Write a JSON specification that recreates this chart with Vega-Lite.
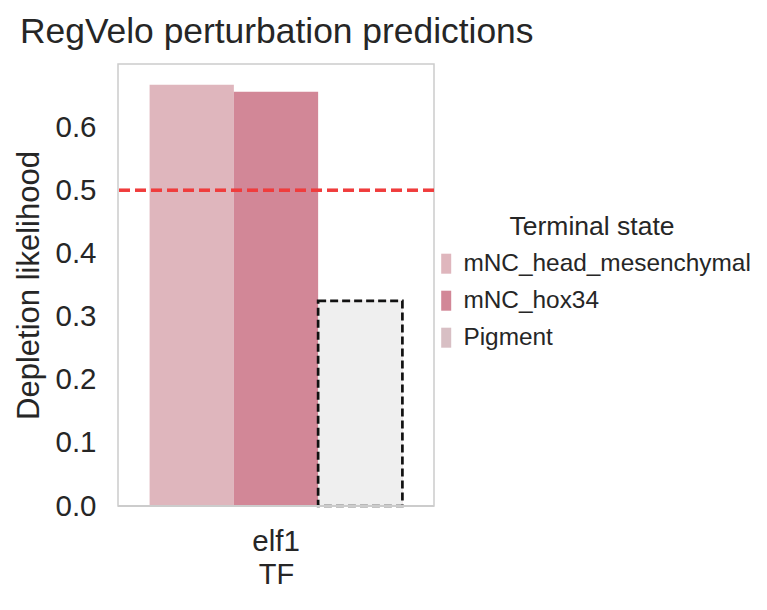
{
  "$schema": "https://vega.github.io/schema/vega-lite/v6.json",
  "autosize": "none",
  "width": 316,
  "height": 442,
  "padding": {"left": 118, "top": 64, "right": 333, "bottom": 104},
  "background": "white",
  "title": {
    "text": "RegVelo perturbation predictions",
    "anchor": "start",
    "frame": "group",
    "dx": -98,
    "offset": 14,
    "font": "Liberation Sans",
    "fontSize": 35.4,
    "fontWeight": "normal",
    "color": "#262626"
  },
  "data": {
    "values": [
      {"TF": "elf1", "state": "mNC_head_mesenchymal", "likelihood": 0.667},
      {"TF": "elf1", "state": "mNC_hox34", "likelihood": 0.656},
      {"TF": "elf1", "state": "Pigment", "likelihood": 0.325}
    ]
  },
  "layer": [
    {
      "mark": {"type": "bar", "strokeWidth": 0},
      "encoding": {
        "x": {
          "field": "TF",
          "type": "nominal",
          "title": "TF",
          "scale": {"paddingInner": 0.2, "paddingOuter": 0.1},
          "axis": {"labelAngle": 0, "labelPadding": 21, "titlePadding": 5}
        },
        "xOffset": {
          "field": "state",
          "type": "nominal",
          "sort": ["mNC_head_mesenchymal", "mNC_hox34", "Pigment"],
          "scale": {"paddingInner": 0, "paddingOuter": 0}
        },
        "y": {
          "field": "likelihood",
          "type": "quantitative",
          "title": "Depletion likelihood",
          "scale": {"domain": [0, 0.7], "nice": false},
          "axis": {"values": [0, 0.1, 0.2, 0.3, 0.4, 0.5, 0.6], "format": ".1f", "labelPadding": 22, "titlePadding": 9, "titleFontSize": 31}
        },
        "color": {
          "field": "state",
          "type": "nominal",
          "title": "Terminal state",
          "sort": ["mNC_head_mesenchymal", "mNC_hox34", "Pigment"],
          "scale": {
            "domain": ["mNC_head_mesenchymal", "mNC_hox34", "Pigment"],
            "range": ["#dfb6bd", "#d28797", "#d8bfc4"]
          },
          "legend": {
            "orient": "none",
            "legendX": 316,
            "legendY": 150,
            "symbolType": "M-0.5,-1H0.5V1H-0.5Z",
            "symbolSize": 400,
            "symbolStrokeWidth": 0,
            "labelOffset": 5,
            "titleAnchor": "middle",
            "titlePadding": 11,
            "rowPadding": 12
          }
        }
      }
    },
    {
      "transform": [{"filter": "datum.state === 'Pigment'"}],
      "mark": {"type": "bar", "fill": "#efefef", "stroke": "#111111", "strokeWidth": 2.7, "strokeDash": [8, 4]},
      "encoding": {
        "x": {"field": "TF", "type": "nominal"},
        "xOffset": {"field": "state", "type": "nominal", "sort": ["mNC_head_mesenchymal", "mNC_hox34", "Pigment"]},
        "y": {"field": "likelihood", "type": "quantitative"}
      }
    },
    {
      "mark": {"type": "rule", "stroke": "#f03c3c", "strokeOpacity": 0.9, "strokeWidth": 3, "strokeDash": [11, 5]},
      "encoding": {"y": {"datum": 0.5}}
    },
    {
      "mark": {"type": "rule", "color": "#cccccc", "strokeWidth": 2},
      "encoding": {"y": {"datum": 0}}
    }
  ],
  "config": {
    "font": "Liberation Sans",
    "view": {"stroke": "#cccccc", "strokeWidth": 1.5},
    "axis": {
      "grid": false,
      "domain": false,
      "ticks": false,
      "tickSize": 0,
      "labelFont": "Liberation Sans",
      "labelFontSize": 29.5,
      "labelColor": "#262626",
      "titleFont": "Liberation Sans",
      "titleFontSize": 29,
      "titleFontWeight": "normal",
      "titleColor": "#262626"
    },
    "legend": {
      "padding": 0,
      "labelFont": "Liberation Sans",
      "labelFontSize": 24.4,
      "labelColor": "#262626",
      "labelLimit": 400,
      "titleFont": "Liberation Sans",
      "titleFontSize": 26.5,
      "titleFontWeight": "normal",
      "titleColor": "#262626"
    }
  }
}
